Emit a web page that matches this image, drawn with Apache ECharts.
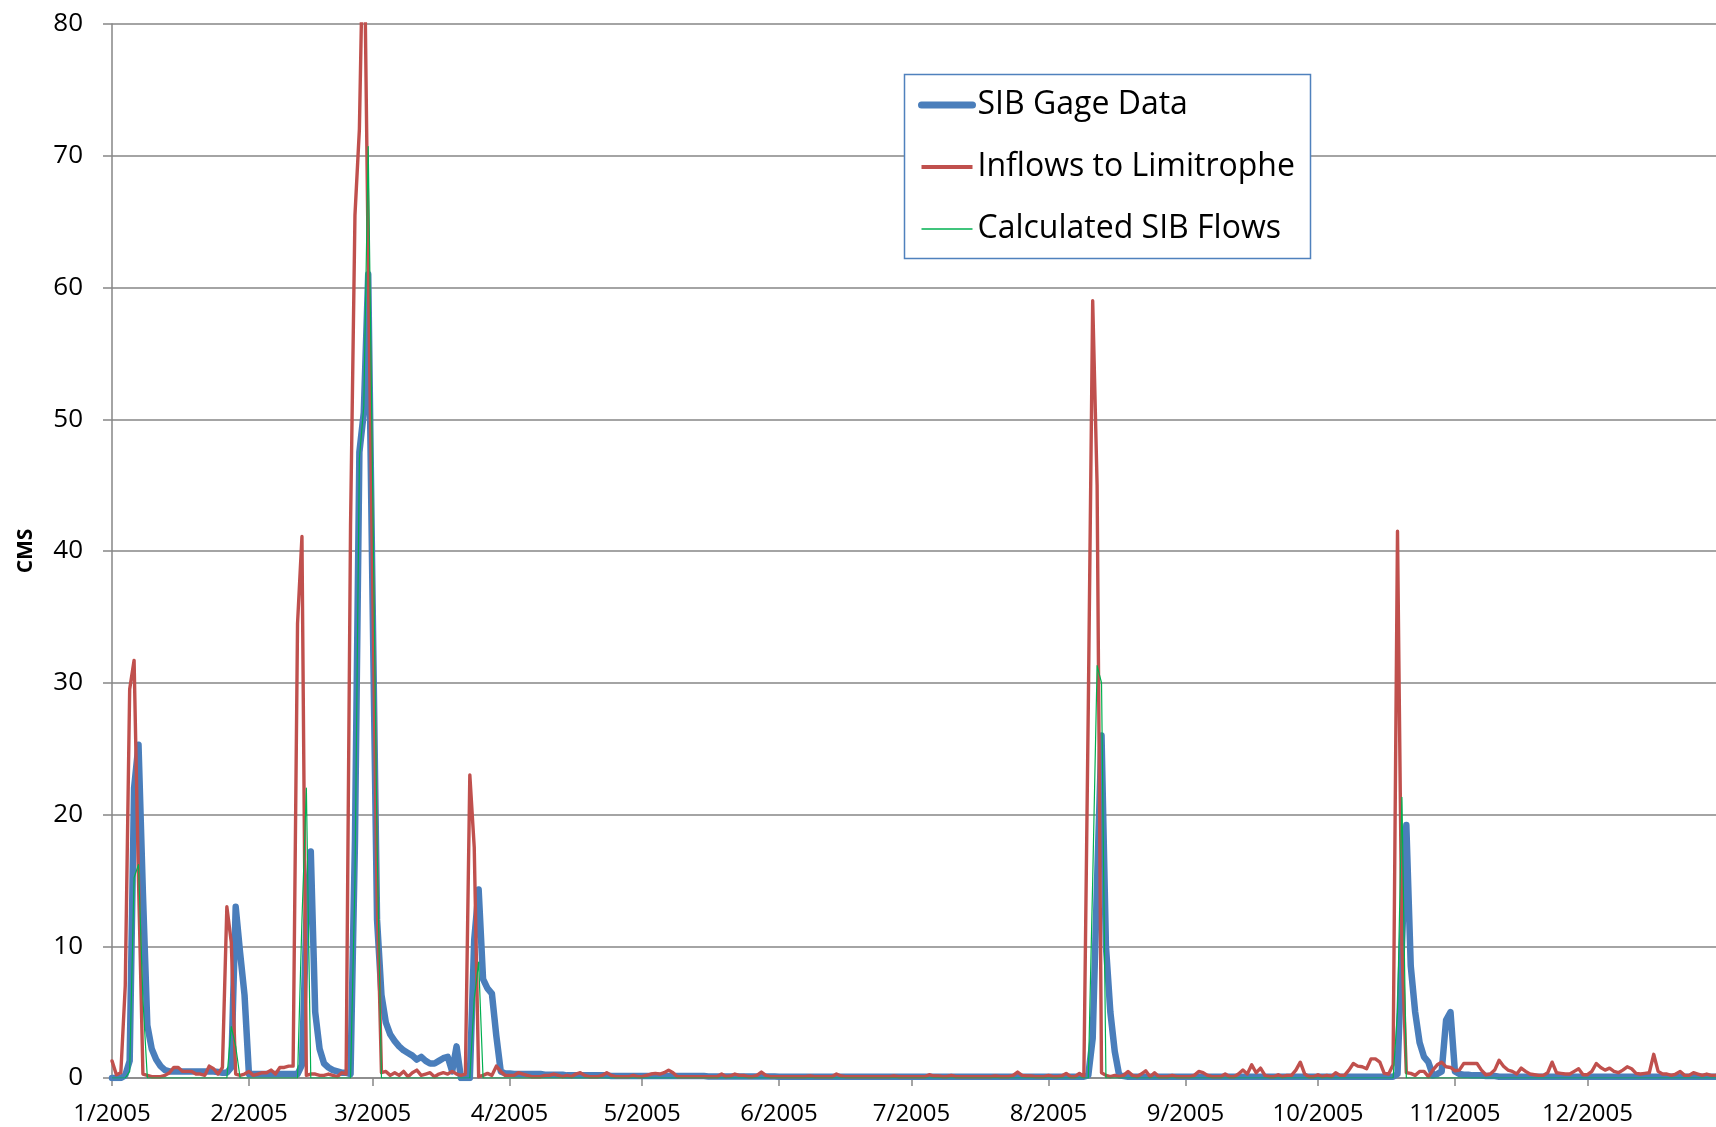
<!DOCTYPE html>
<html>
<head>
<meta charset="utf-8">
<script src="https://cdn.jsdelivr.net/npm/echarts@6/dist/echarts.min.js"></script>
<style>
html,body{margin:0;padding:0;background:#fff;}
#chart{width:1716px;height:1127px;}
</style>
</head>
<body>
<div id="chart"></div>
<script>
// Month start positions (day-of-year index) and their tick labels
const monthStarts = [0,31,59,90,120,151,181,212,243,273,304,334];
const monthLabels = ['1/2005','2/2005','3/2005','4/2005','5/2005','6/2005','7/2005','8/2005','9/2005','10/2005','11/2005','12/2005'];
const seriesNames = ['SIB Gage Data','Inflows to Limitrophe','Calculated SIB Flows'];

// Daily values, 1 Jan 2005 .. 31 Dec 2005 (CMS)
const gage = [
  // Jan
  0,0,0,0.2,1.3,22,25.3,14,4,2.2, 1.4,0.9,0.6,0.5,0.5,0.5,0.5,0.5,0.5,0.5, 0.5,0.5,0.5,0.5,0.45,0.4,0.4,0.8,13,9.5, 6.3,
  // Feb
  0.3,0.3,0.3,0.3,0.3,0.3,0.3,0.3,0.3,0.3, 0.3,0.3,1,12,17.2,5,2.2,1.1,0.8,0.6, 0.5,0.4,0.4,0.3,18,47.5,50.5,61,
  // Mar
  36,12,6.3,4.2,3.3,2.8,2.4,2.1,1.9,1.7, 1.4,1.6,1.3,1.1,1.1,1.3,1.5,1.6,0.5,2.4, 0,0,0,10.5,14.3,7.5,6.8,6.4,3.2,0.5, 0.35,
  // Apr
  0.35,0.3,0.3,0.3,0.3,0.3,0.3,0.3,0.25,0.25, 0.25,0.25,0.25,0.2,0.2,0.2,0.2,0.2,0.2,0.2, 0.2,0.2,0.2,0.15,0.15,0.15,0.15,0.15,0.15,0.15,
  // May
  0.15,0.15,0.15,0.15,0.15,0.15,0.15,0.15,0.15,0.15, 0.15,0.15,0.15,0.15,0.15,0.12,0.12,0.12,0.12,0.12, 0.12,0.12,0.12,0.12,0.12,0.12,0.12,0.12,0.12,0.12, 0.12,
  // Jun
  0.1,0.1,0.1,0.1,0.1,0.1,0.1,0.1,0.1,0.1, 0.1,0.1,0.1,0.1,0.1,0.1,0.1,0.1,0.1,0.1, 0.1,0.1,0.1,0.1,0.1,0.1,0.1,0.1,0.1,0.1,
  // Jul
  0.1,0.1,0.1,0.1,0.1,0.1,0.1,0.1,0.1,0.1, 0.1,0.1,0.1,0.1,0.1,0.1,0.1,0.1,0.1,0.1, 0.1,0.1,0.1,0.1,0.1,0.1,0.1,0.1,0.1,0.1, 0.1,
  // Aug
  0.1,0.1,0.1,0.1,0.1,0.1,0.1,0.1,0.1,0.2, 3,15,26,10,5,2,0.2,0.15,0.1,0.1, 0.1,0.1,0.1,0.1,0.1,0.1,0.1,0.1,0.1,0.1, 0.1,
  // Sep
  0.1,0.1,0.1,0.1,0.1,0.1,0.1,0.1,0.1,0.1, 0.1,0.1,0.1,0.1,0.1,0.1,0.1,0.1,0.1,0.1, 0.1,0.1,0.1,0.1,0.1,0.1,0.1,0.1,0.1,0.1,
  // Oct
  0.1,0.1,0.1,0.1,0.1,0.1,0.1,0.1,0.1,0.1, 0.1,0.1,0.1,0.1,0.1,0.1,0.1,0.1,0.3,10, 19.2,8.5,5,2.7,1.6,1.2,0.2,0.3,0.5,4.4, 5,
  // Nov
  0.5,0.3,0.25,0.25,0.2,0.2,0.2,0.15,0.15,0.15, 0.1,0.1,0.1,0.1,0.1,0.1,0.1,0.1,0.1,0.1, 0.1,0.1,0.1,0.1,0.1,0.1,0.1,0.1,0.1,0.1,
  // Dec
  0.1,0.1,0.1,0.1,0.1,0.1,0.1,0.1,0.1,0.1, 0.1,0.1,0.1,0.1,0.1,0.1,0.1,0.1,0.1,0.1, 0.1,0.1,0.1,0.1,0.1,0.1,0.1,0.1,0.1,0.1, 0.1
];

const inflow = [
  // Jan
  1.3,0.25,0.4,7,29.5,31.7,15,0.3,0.2,0.1, 0.1,0.1,0.2,0.4,0.8,0.8,0.5,0.5,0.5,0.3, 0.3,0.2,0.9,0.7,0.3,0.8,13,10.3,0.3,0.2, 0.3,
  // Feb
  0.5,0.2,0.3,0.4,0.4,0.6,0.3,0.8,0.8,0.9, 0.9,34.5,41.1,0.2,0.3,0.3,0.2,0.2,0.3,0.2, 0.1,0.4,0.3,42,65.5,72,90,62,
  // Mar
  38,14,0.4,0.5,0.2,0.4,0.2,0.5,0.1,0.4, 0.6,0.2,0.3,0.4,0.1,0.3,0.4,0.3,0.5,0.3, 0.2,0.3,23,17.5,0.1,0.2,0.35,0.2,0.9,0.5, 0.2,
  // Apr
  0.2,0.2,0.4,0.3,0.2,0.1,0.1,0.1,0.2,0.2, 0.3,0.2,0.1,0.2,0.1,0.3,0.4,0.2,0.1,0.1, 0.1,0.2,0.4,0.2,0.1,0.1,0.1,0.1,0.2,0.1,
  // May
  0.1,0.2,0.3,0.35,0.3,0.4,0.6,0.4,0.1,0.1, 0.1,0.1,0.1,0.1,0.1,0.1,0.1,0.1,0.3,0.1, 0.15,0.3,0.2,0.2,0.1,0.1,0.2,0.45,0.2,0.1, 0.1,
  // Jun
  0.1,0.1,0.1,0.1,0.1,0.1,0.1,0.15,0.1,0.1, 0.1,0.1,0.1,0.3,0.15,0.1,0.1,0.1,0.1,0.1, 0.1,0.1,0.1,0.1,0.1,0.1,0.15,0.1,0.1,0.1,
  // Jul
  0.1,0.1,0.1,0.1,0.25,0.15,0.15,0.1,0.1,0.2, 0.1,0.1,0.1,0.1,0.1,0.1,0.1,0.1,0.1,0.15, 0.1,0.1,0.1,0.2,0.45,0.2,0.15,0.15,0.1,0.1, 0.1,
  // Aug
  0.2,0.1,0.1,0.15,0.35,0.1,0.1,0.35,0.1,28, 59,45,0.4,0.2,0.1,0.2,0.1,0.2,0.5,0.2, 0.1,0.3,0.55,0.1,0.4,0.1,0.1,0.1,0.2,0.1, 0.1,
  // Sep
  0.1,0.1,0.2,0.5,0.4,0.2,0.1,0.1,0.1,0.3, 0.1,0.1,0.3,0.6,0.3,1.0,0.4,0.75,0.2,0.1, 0.1,0.25,0.1,0.2,0.2,0.6,1.2,0.3,0.1,0.1,
  // Oct
  0.25,0.1,0.2,0.1,0.4,0.2,0.2,0.6,1.1,0.9, 0.85,0.7,1.45,1.45,1.2,0.35,0.3,1,41.5,10, 0.4,0.35,0.2,0.5,0.5,0.1,0.6,1.0,1.2,0.85, 0.8,
  // Nov
  0.55,0.6,1.1,1.1,1.1,1.1,0.6,0.25,0.3,0.6, 1.35,0.9,0.6,0.5,0.3,0.75,0.5,0.3,0.25,0.2, 0.2,0.4,1.2,0.4,0.35,0.3,0.3,0.5,0.7,0.25,
  // Dec
  0.25,0.5,1.1,0.8,0.6,0.75,0.5,0.4,0.6,0.85, 0.7,0.35,0.3,0.35,0.4,1.8,0.5,0.3,0.3,0.2, 0.3,0.5,0.2,0.2,0.4,0.3,0.2,0.3,0.2,0.2, 0.3
];

const calculated = [
  // Jan
  0,0,0,0,0.5,15.2,16.2,6,0,0, 0,0,0,0,0,0,0,0,0,0, 0,0,0,0,0,0,0,3.9,2.4,0, 0,
  // Feb
  0,0,0,0,0,0,0,0,0,0, 0,0,12,22,0,0,0,0,0,0, 0,0,0,0,15,47,51,70.7,
  // Mar
  45,18,0,0,0,0,0,0,0,0, 0,0,0,0,0,0,0,0,0,0, 0,0,0,6,8.8,0,0,0,0,0, 0,
  // Apr
  0,0,0,0,0,0,0,0,0,0, 0,0,0,0,0,0,0,0,0,0, 0,0,0,0,0,0,0,0,0,0,
  // May
  0,0,0,0,0,0,0,0,0,0, 0,0,0,0,0,0,0,0,0,0, 0,0,0,0,0,0,0,0,0,0, 0,
  // Jun
  0,0,0,0,0,0,0,0,0,0, 0,0,0,0,0,0,0,0,0,0, 0,0,0,0,0,0,0,0,0,0,
  // Jul
  0,0,0,0,0,0,0,0,0,0, 0,0,0,0,0,0,0,0,0,0, 0,0,0,0,0,0,0,0,0,0, 0,
  // Aug
  0,0,0,0,0,0,0,0,0,0, 15,31.3,30,0,0,0,0,0,0,0, 0,0,0,0,0,0,0,0,0,0, 0,
  // Sep
  0,0,0,0,0,0,0,0,0,0, 0,0,0,0,0,0,0,0,0,0, 0,0,0,0,0,0,0,0,0,0,
  // Oct
  0,0,0,0,0,0,0,0,0,0, 0,0,0,0,0,0,0,0,5,21.3, 0,0,0,0,0,0,0,0,0,0, 0,
  // Nov
  0,0,0,0,0,0,0,0,0,0, 0,0,0,0,0,0,0,0,0,0, 0,0,0,0,0,0,0,0,0,0,
  // Dec
  0,0,0,0,0,0,0,0,0,0, 0,0,0,0,0,0,0,0,0,0, 0,0,0,0,0,0,0,0,0,0, 0
];

const FONT = "'Open Sans', 'Noto Sans', sans-serif";
const GRID_COLOR = '#868686';
const COLORS = ['#4A7EBB', '#C0504D', '#00B050'];

const toPoints = arr => arr.map((v, i) => [i, v]);

const chart = echarts.init(document.getElementById('chart'), null, {renderer: 'canvas'});
chart.setOption({
  animation: false,
  backgroundColor: '#fff',
  textStyle: {fontFamily: FONT},
  grid: {left: 112, top: 24, right: 0, height: 1054, containLabel: false},
  xAxis: {
    type: 'value', min: 0, max: 363.1,
    axisLine: {show: true, lineStyle: {color: GRID_COLOR, width: 1.5}},
    axisTick: {show: true, customValues: monthStarts, length: 8, lineStyle: {color: GRID_COLOR, width: 1.5}},
    axisLabel: {
      customValues: monthStarts,
      formatter: v => monthLabels[monthStarts.indexOf(v)],
      fontSize: 24, color: '#000', margin: 24, fontFamily: FONT
    },
    splitLine: {show: false}
  },
  yAxis: {
    type: 'value', min: 0, max: 80, interval: 10,
    name: 'CMS', nameLocation: 'middle', nameRotate: 90, nameGap: 75,
    nameTextStyle: {fontSize: 21, fontWeight: 'bold', color: '#000', fontFamily: FONT},
    axisLine: {show: true, lineStyle: {color: GRID_COLOR, width: 1.5}},
    axisTick: {show: true, length: 9, lineStyle: {color: GRID_COLOR, width: 1.5}},
    axisLabel: {fontSize: 26, color: '#000', margin: 29, fontFamily: FONT},
    splitLine: {show: true, lineStyle: {color: GRID_COLOR, width: 1.5}}
  },
  legend: {
    orient: 'vertical', left: 918, top: 89, padding: 0,
    itemWidth: 51, itemHeight: 14, itemGap: 30, z: 10,
    textStyle: {fontSize: 32, lineHeight: 31, color: '#000', fontFamily: FONT},
    itemStyle: {opacity: 0},
    data: [
      {name: seriesNames[0], lineStyle: {width: 7, color: COLORS[0], cap: 'round'}},
      {name: seriesNames[1], lineStyle: {width: 4, color: COLORS[1], cap: 'butt'}},
      {name: seriesNames[2], lineStyle: {width: 1.3, color: COLORS[2], cap: 'butt'}}
    ]
  },
  graphic: [{
    type: 'rect', z: 5, zlevel: 0,
    shape: {x: 904.5, y: 74.5, width: 406, height: 184},
    style: {fill: '#fff', stroke: '#4F81BD', lineWidth: 1.5}
  }],
  series: [
    {name: seriesNames[0], type: 'line', data: toPoints(gage), symbol: 'none', showSymbol: false,
     lineStyle: {color: COLORS[0], width: 6.5, cap: 'round', join: 'round'}, itemStyle: {color: COLORS[0]}, z: 2},
    {name: seriesNames[1], type: 'line', data: toPoints(inflow), symbol: 'none', showSymbol: false,
     lineStyle: {color: COLORS[1], width: 3.4, cap: 'round', join: 'round'}, itemStyle: {color: COLORS[1]}, z: 3},
    {name: seriesNames[2], type: 'line', data: toPoints(calculated), symbol: 'none', showSymbol: false,
     lineStyle: {color: COLORS[2], width: 1.2, join: 'round'}, itemStyle: {color: COLORS[2]}, z: 4}
  ]
});
</script>
</body>
</html>
